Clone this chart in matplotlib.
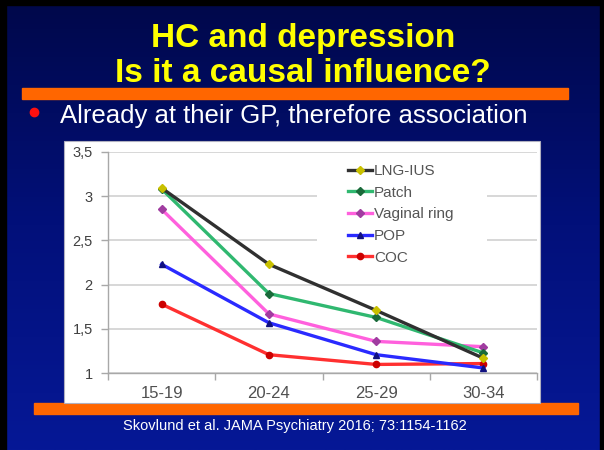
import matplotlib
matplotlib.use('Agg')
import matplotlib.pyplot as plt
import numpy as np
from matplotlib.patches import Rectangle
from matplotlib.colors import LinearSegmentedColormap

# ---- data ----
age_groups = ['15-19', '20-24', '25-29', '30-34']
lng_ius = [3.09, 2.23, 1.71, 1.17]
patch = [3.08, 1.90, 1.63, 1.23]
vaginal_ring = [2.85, 1.67, 1.36, 1.30]
pop = [2.23, 1.57, 1.21, 1.06]
coc = [1.78, 1.21, 1.10, 1.11]
y_ticks = [1, 1.5, 2, 2.5, 3, 3.5]
y_tick_labels = ['1', '1,5', '2', '2,5', '3', '3,5']

title1 = 'HC and depression'
title2 = 'Is it a causal influence?'
bullet_text = 'Already at their GP, therefore association'
footer = 'Skovlund et al. JAMA Psychiatry 2016; 73:1154-1162'

W, H = 604, 450
fig = plt.figure(figsize=(W / 100, H / 100), dpi=100)

def fx(px):
    return px / W

def fy(py):
    return 1 - py / H

# background
bg = fig.add_axes([0, 0, 1, 1])
bg.set_axis_off()
bg.set_xlim(0, 1)
bg.set_ylim(0, 1)
grad = np.linspace(0, 1, 256)[:, None]
cmap = LinearSegmentedColormap.from_list('bg', ['#00084a', '#02107a', '#061896'])
bg.imshow(grad, aspect='auto', cmap=cmap, extent=[0, 1, 0, 1], origin='upper', zorder=0)

# black border
bg.add_patch(Rectangle((0, 0), fx(6), 1, color='black', zorder=1))
bg.add_patch(Rectangle((0, fy(5)), 1, 1 - fy(5), color='black', zorder=1))
bg.add_patch(Rectangle((fx(600), 0), 1 - fx(600), 1, color='black', zorder=1))

# orange bars
bg.add_patch(Rectangle((fx(22), fy(99)), fx(568) - fx(22), 11 / H, color='#ff6600', zorder=1))
bg.add_patch(Rectangle((fx(34), fy(414)), fx(578) - fx(34), 11 / H, color='#ff6600', zorder=1))

# titles
fig.text(fx(303), fy(47), title1, color='#ffff00', fontsize=24, fontweight='bold',
         family='Liberation Sans', ha='center', va='baseline')
fig.text(fx(303), fy(82), title2, color='#ffff00', fontsize=24, fontweight='bold',
         family='Liberation Sans', ha='center', va='baseline')

# bullet
bg.plot([fx(34)], [fy(112)], 'o', color='#ff1010', ms=6, zorder=2)
fig.text(fx(60), fy(123), bullet_text, color='white', fontsize=18.5,
         family='Liberation Sans', ha='left', va='baseline')

# footer
fig.text(fx(295), fy(426), footer, color='white', fontsize=10.5,
         family='Liberation Sans', ha='center', va='center')

# white chart panel
bg.add_patch(Rectangle((fx(64), fy(403)), fx(540) - fx(64), (403 - 141) / H,
                       facecolor='white', edgecolor='#b0b0c0', lw=0.8, zorder=2))

# chart axes
ax_left, ax_right, ax_top, ax_bot = 108, 537, 151.7, 373.3
ax = fig.add_axes([fx(ax_left), fy(ax_bot), (ax_right - ax_left) / W, (ax_bot - ax_top) / H])
ax.patch.set_alpha(0)
ax.set_xlim(-0.5, 3.5)
ax.set_ylim(1, 3.5)
ax.set_axisbelow(True)

x = np.arange(len(age_groups))
series = [
    ('COC', coc, '#ff3030', 'o', '#cc0000'),
    ('POP', pop, '#2a2aff', '^', '#101080'),
    ('Vaginal ring', vaginal_ring, '#ff60dd', 'D', '#a03ca0'),
    ('Patch', patch, '#30b870', 'D', '#1a6a3a'),
    ('LNG-IUS', lng_ius, '#303030', 'D', '#c8c000'),
]
handles = {}
for i, (name, vals, col, mk, mcol) in enumerate(series):
    h, = ax.plot(x, vals, color=col, lw=2.4, marker=mk, ms=4.5,
                 mfc=mcol, mec=mcol, zorder=3 + i, label=name)
    handles[name] = h

ax.set_yticks(y_ticks)
ax.set_yticklabels(y_tick_labels)
ax.set_xticks(x)
ax.set_xticklabels(age_groups)
ax.set_xticks(np.arange(-0.5, 4.0, 1.0), minor=True)
ax.tick_params(axis='x', which='major', length=0, pad=9, labelsize=12, labelcolor='#505050')
ax.tick_params(axis='x', which='minor', length=5, color='#a8a8a8', width=1)
ax.tick_params(axis='y', length=5, color='#a8a8a8', width=1, pad=6, labelsize=10.5,
               labelcolor='#404040')
for lbl in ax.get_xticklabels() + ax.get_yticklabels():
    lbl.set_family('Liberation Sans')
ax.yaxis.grid(True, color='#d4d4d4', lw=1.3)
for s in ['top', 'right']:
    ax.spines[s].set_visible(False)
for s in ['left', 'bottom']:
    ax.spines[s].set_color('#a8a8a8')
    ax.spines[s].set_linewidth(1.0)

# legend background covering grid
ax.add_patch(Rectangle((0.487, 0.466), 0.396, 0.4965, transform=ax.transAxes,
                       facecolor='white', edgecolor='none', zorder=1))

order = ['LNG-IUS', 'Patch', 'Vaginal ring', 'POP', 'COC']
leg = ax.legend([handles[n] for n in order], order, loc='upper left',
                bbox_to_anchor=(fx(348), fy(164)), bbox_transform=fig.transFigure,
                frameon=False, borderpad=0, borderaxespad=0, handlelength=1.6,
                handletextpad=0.1, labelspacing=0.5,
                prop={'family': 'Liberation Sans', 'size': 11})
for t in leg.get_texts():
    t.set_color('#555555')

fig.savefig('out.png', dpi=100)
